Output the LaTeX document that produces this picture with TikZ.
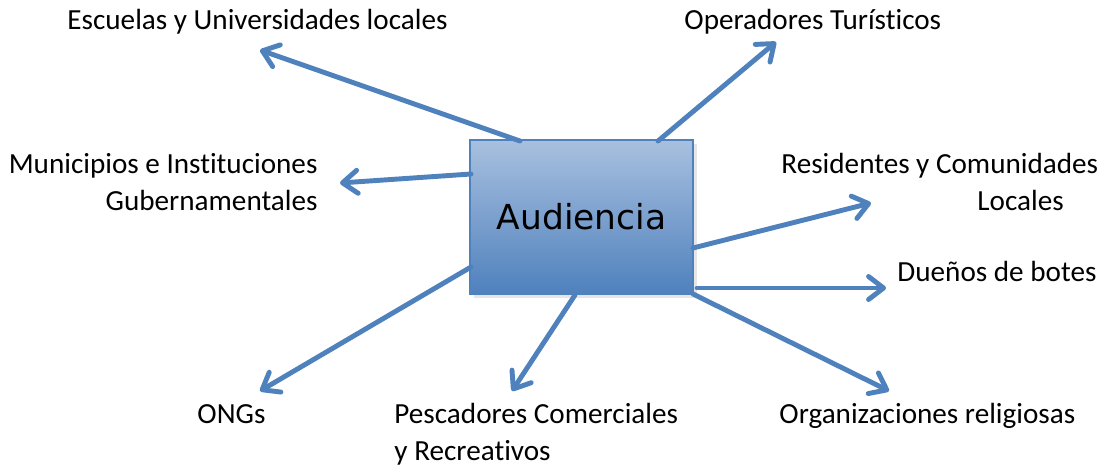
\documentclass[tikz,border=0pt]{standalone}
\usepackage{fontspec}
\setmainfont{Carlito}[Ligatures=NoCommon]
\newfontfamily\boxfont{DejaVu Sans}
\usetikzlibrary{arrows.meta,positioning,shadows}
\definecolor{ablue}{RGB}{79,129,189}
\definecolor{alight}{RGB}{168,192,223}

\begin{document}
\begin{tikzpicture}[x=0.02cm, y=-0.02cm, line width=2.8pt,
  main node/.style={rectangle,draw=ablue,line width=1pt,top color=alight,bottom color=ablue,minimum width=4.46cm,minimum height=3.08cm,inner sep=0pt,drop shadow={opacity=0.2,shadow xshift=2pt,shadow yshift=-2pt},font=\boxfont\fontsize{19.6}{22}\selectfont},
  label node/.style={font=\fontsize{16.6}{20}\selectfont,inner sep=0pt,anchor=base west},
  aud arrow/.style={draw=ablue,line cap=round,-{Straight Barb[length=3mm,width=4.6mm,round]}}]
\useasboundingbox (0,0) rectangle (1101,466);
\begin{scope}
\node[main node] (aud) at (581.5,217) {Audiencia};
\end{scope}
\begin{scope}[every node/.style={label node}]
\node (escuelas) at (65,30) {Escuelas y Universidades locales};
\node (operadores) at (682,30) {Operadores Turísticos};
\node[anchor=base east] (municipios1) at (320,173) {Municipios e Instituciones};
\node[anchor=base east] (municipios2) at (320,210) {Gubernamentales};
\node (residentes1) at (779,173) {Residentes y Comunidades};
\node (residentes2) at (975,210) {Locales};
\node (duenos) at (895,281) {Dueños de botes};
\node (ongs) at (195,423) {ONGs};
\node (pescadores1) at (392,423) {Pescadores Comerciales};
\node (pescadores2) at (392,460) {y Recreativos};
\node (religiosas) at (777,423) {Organizaciones religiosas};
\end{scope}
% start points on the box
\coordinate (s1) at (520,141);
\coordinate (s2) at (658,141);
\coordinate (s3) at (471,174);
\coordinate (s4) at (693,248);
\coordinate (s5) at (697,288);
\coordinate (s6) at (693,294);
\coordinate (s7) at (575,295);
\coordinate (s8) at (471,267);
% arrow tips
\coordinate (t1) at (260,50);
\coordinate (t2) at (776,42);
\coordinate (t3) at (340,183);
\coordinate (t4) at (871,203);
\coordinate (t5) at (886,288);
\coordinate (t6) at (889,391);
\coordinate (t7) at (512,391);
\coordinate (t8) at (260,391);
\begin{scope}
\draw[aud arrow] (s1) -- (t1);
\draw[aud arrow] (s2) -- (t2);
\draw[aud arrow] (s3) -- (t3);
\draw[aud arrow] (s4) -- (t4);
\draw[aud arrow] (s5) -- (t5);
\draw[aud arrow] (s6) -- (t6);
\draw[aud arrow] (s7) -- (t7);
\draw[aud arrow] (s8) -- (t8);
\end{scope}
\end{tikzpicture}
\end{document}
